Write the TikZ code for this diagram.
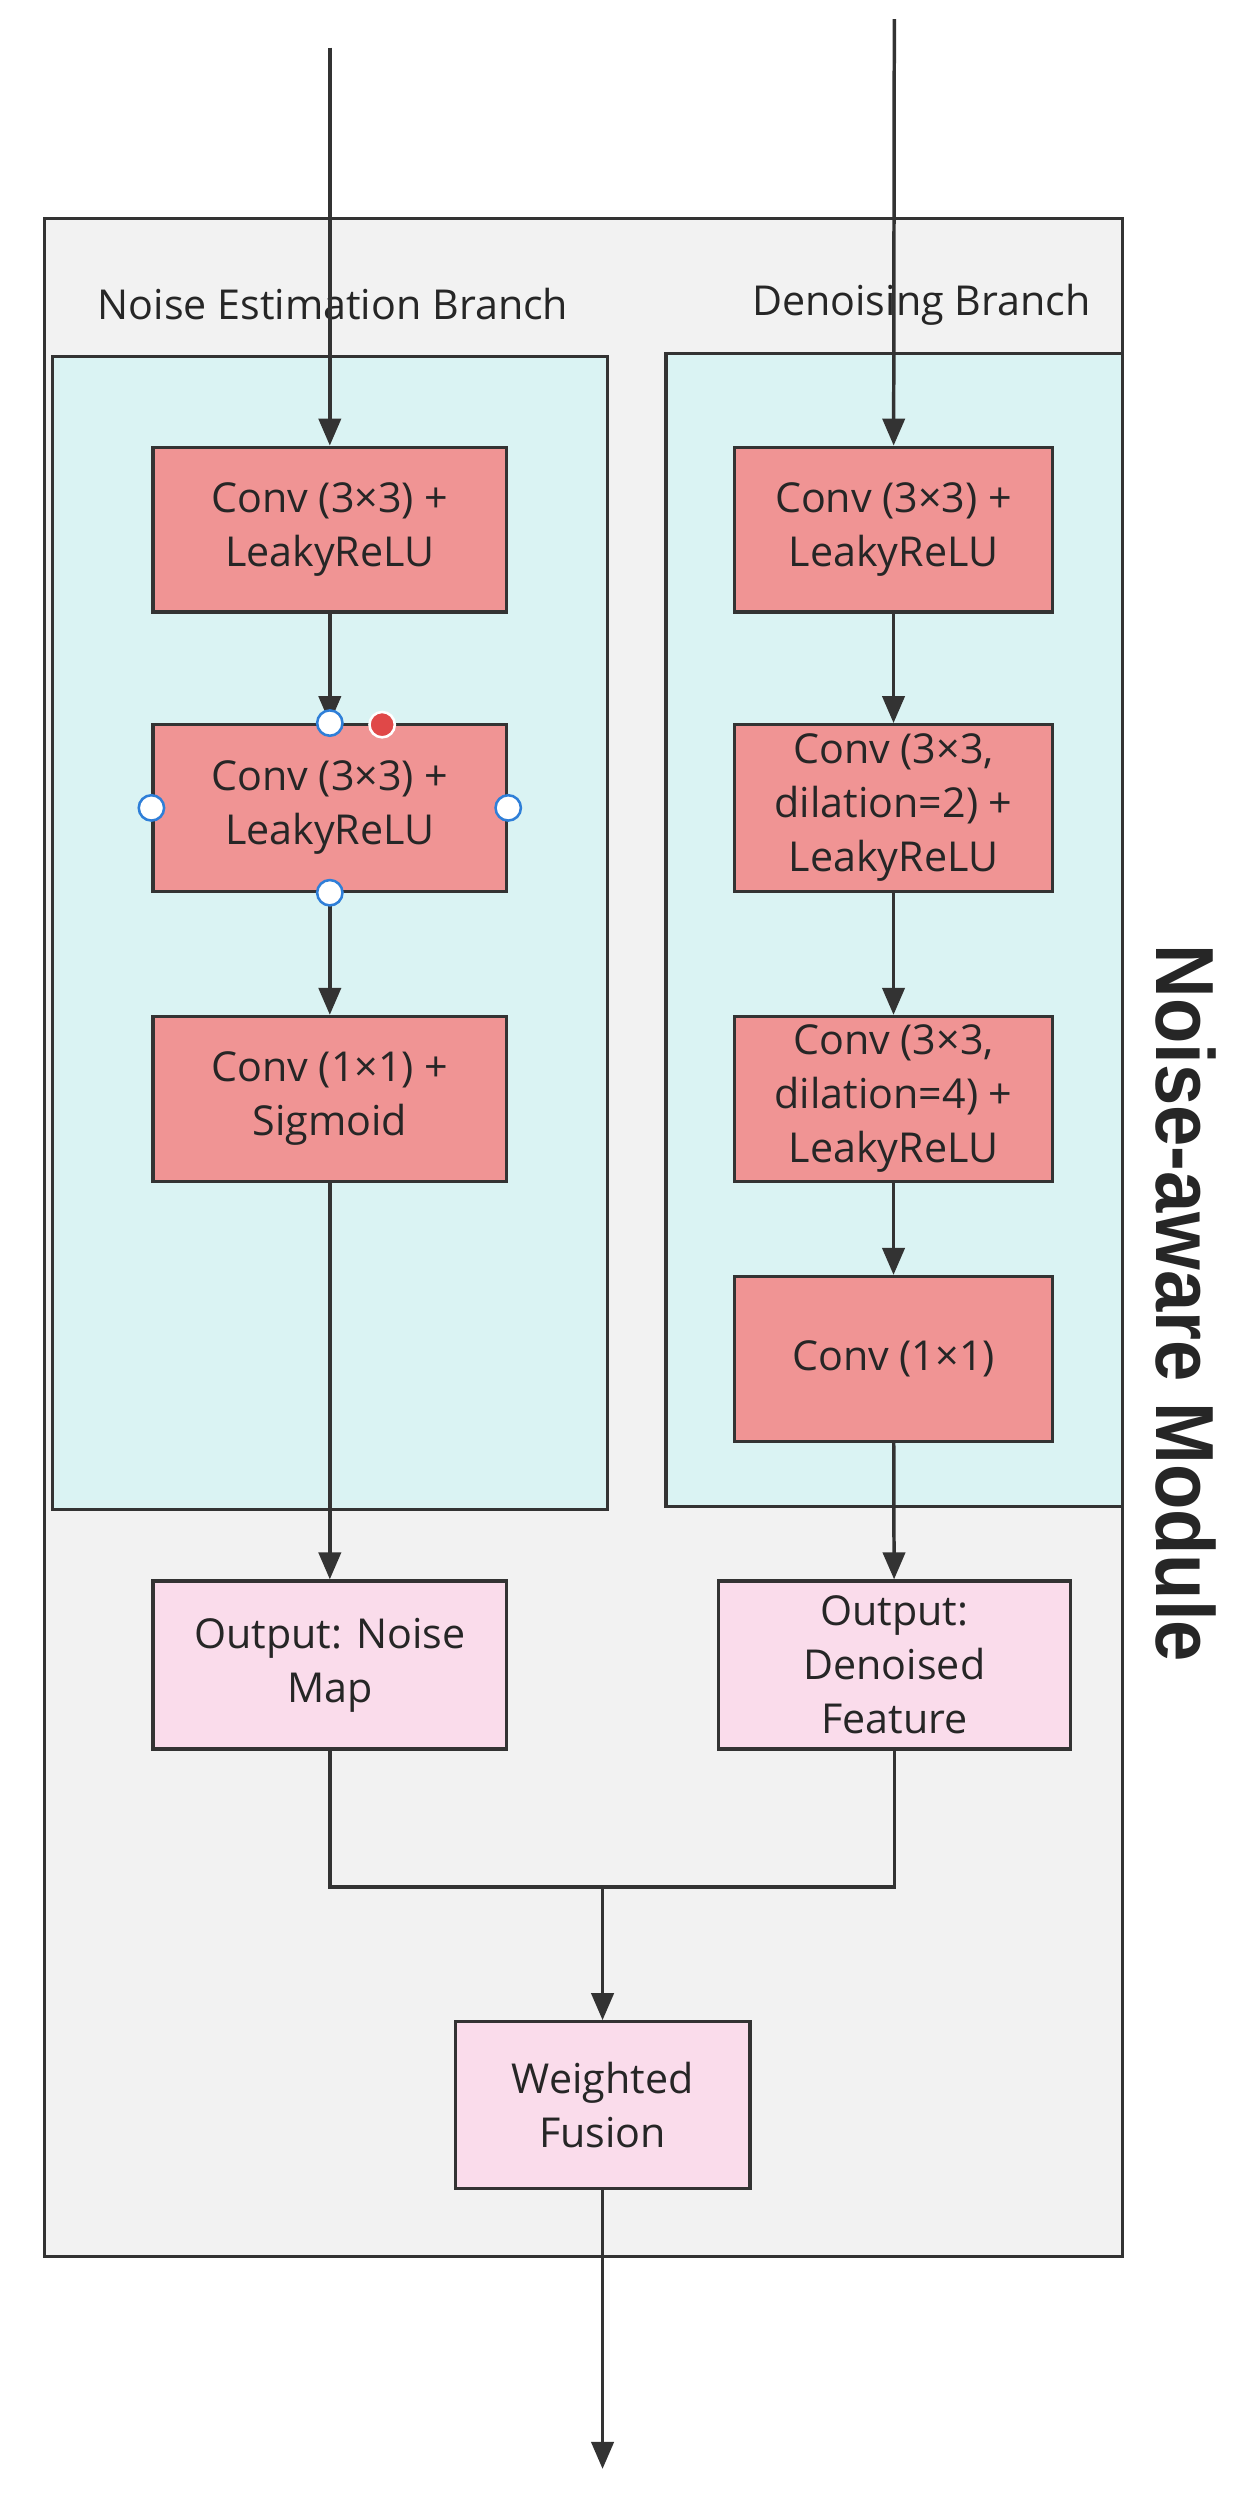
\documentclass[tikz,border=0pt]{standalone}
\usepackage{fontspec}
\setmainfont{Open Sans}
\newfontfamily\labfont{Liberation Sans}
\usetikzlibrary{arrows.meta}
\definecolor{lc}{HTML}{333333}
\definecolor{outerf}{HTML}{F2F2F2}
\definecolor{cyanf}{HTML}{DAF3F3}
\definecolor{redf}{HTML}{F09494}
\definecolor{pinkf}{HTML}{FADCEB}
\definecolor{hb}{HTML}{2F7FD8}
\definecolor{hr}{HTML}{E04848}
\begin{document}
\begin{tikzpicture}[x=1pt,y=-1pt,
  box/.style={draw=lc,line width=2pt,fill=redf,align=center,font=\fontsize{26}{34}\selectfont,text=black!85,inner sep=0},
  obox/.style={box,fill=pinkf},
  arr/.style={draw=lc,line width=2.2pt,-{Triangle[length=17pt,width=14pt]}},
  plain/.style={draw=lc,line width=2.2pt},
  frame/.style={draw=lc,line width=2pt},
  hdl/.style={circle,draw=hb,fill=white,line width=1.6pt,minimum size=16pt,inner sep=0}]
\useasboundingbox (0,0) rectangle (780,1576);
\fill[white] (0,0) rectangle (780,1576);
\draw[frame,fill=outerf] (28,138) rectangle (708,1423);
\draw[frame,fill=cyanf] (33,225) rectangle (383,952);
\draw[frame,fill=cyanf] (420,223) rectangle (708,950);
\node[font=\fontsize{26}{30}\selectfont,text=black!85] (t1) at (210,192) {Noise Estimation Branch};
\node[font=\fontsize{26}{30}\selectfont,text=black!85] (t2) at (581,192) {Denoising Branch};
\node[font=\labfont\bfseries\fontsize{52}{56}\selectfont,text=black!85,rotate=-90,xscale=0.9] (mod) at (748,822) {Noise-aware Module};
% left column
\node[box,minimum width=223pt,minimum height=104pt] (l1) at (208,334) {Conv (3×3) +\\LeakyReLU};
\node[box,minimum width=223pt,minimum height=105pt] (l2) at (208,509.5) {Conv (3×3) +\\LeakyReLU};
\node[box,minimum width=223pt,minimum height=104pt] (l3) at (208,693) {Conv (1×1) +\\Sigmoid};
\node[obox,minimum width=223pt,minimum height=106pt] (lo) at (208,1050) {Output: Noise\\Map};
% right column
\node[box,minimum width=201pt,minimum height=104pt] (r1) at (563.5,334) {Conv (3×3) +\\LeakyReLU};
\node[box,minimum width=201pt,minimum height=105pt] (r2) at (563.5,509.5) {Conv (3×3,\\dilation=2) +\\LeakyReLU};
\node[box,minimum width=201pt,minimum height=104pt] (r3) at (563.5,693) {Conv (3×3,\\dilation=4) +\\LeakyReLU};
\node[box,minimum width=201pt,minimum height=104pt] (r4) at (563.5,857) {Conv (1×1)};
\node[obox,minimum width=222pt,minimum height=106pt] (ro) at (564,1050) {Output:\\Denoised\\Feature};
\node[obox,minimum width=186pt,minimum height=105pt] (wf) at (380,1327.5) {Weighted\\Fusion};
\coordinate (inl) at (208,30);
\coordinate (inr) at (564,12);
\coordinate (out) at (380,1557);
\coordinate (mid) at (380,1190);
\draw[arr] (inl) -- (l1);
\draw[arr] (l1) -- (l2);
\draw[arr] (l2) -- (l3);
\draw[arr] (l3) -- (lo);
\draw[arr] (inr) -- (r1);
\draw[arr] (r1) -- (r2);
\draw[arr] (r2) -- (r3);
\draw[arr] (r3) -- (r4);
\draw[arr] (r4) -- (ro);
\draw[plain] (lo.south) |- (mid) -| (ro.south);
\draw[arr] (mid) -- (wf);
\draw[arr] (wf) -- (out);
% selection handles
\node[hdl] (h1) at (l2.north) {};
\node[hdl] (h2) at (l2.west) {};
\node[hdl] (h3) at (l2.east) {};
\node[hdl] (h4) at (l2.south) {};
\node[circle,draw=white,fill=hr,line width=1.6pt,minimum size=16pt,inner sep=0] (h5) at (241,457) {};
\end{tikzpicture}
\end{document}
